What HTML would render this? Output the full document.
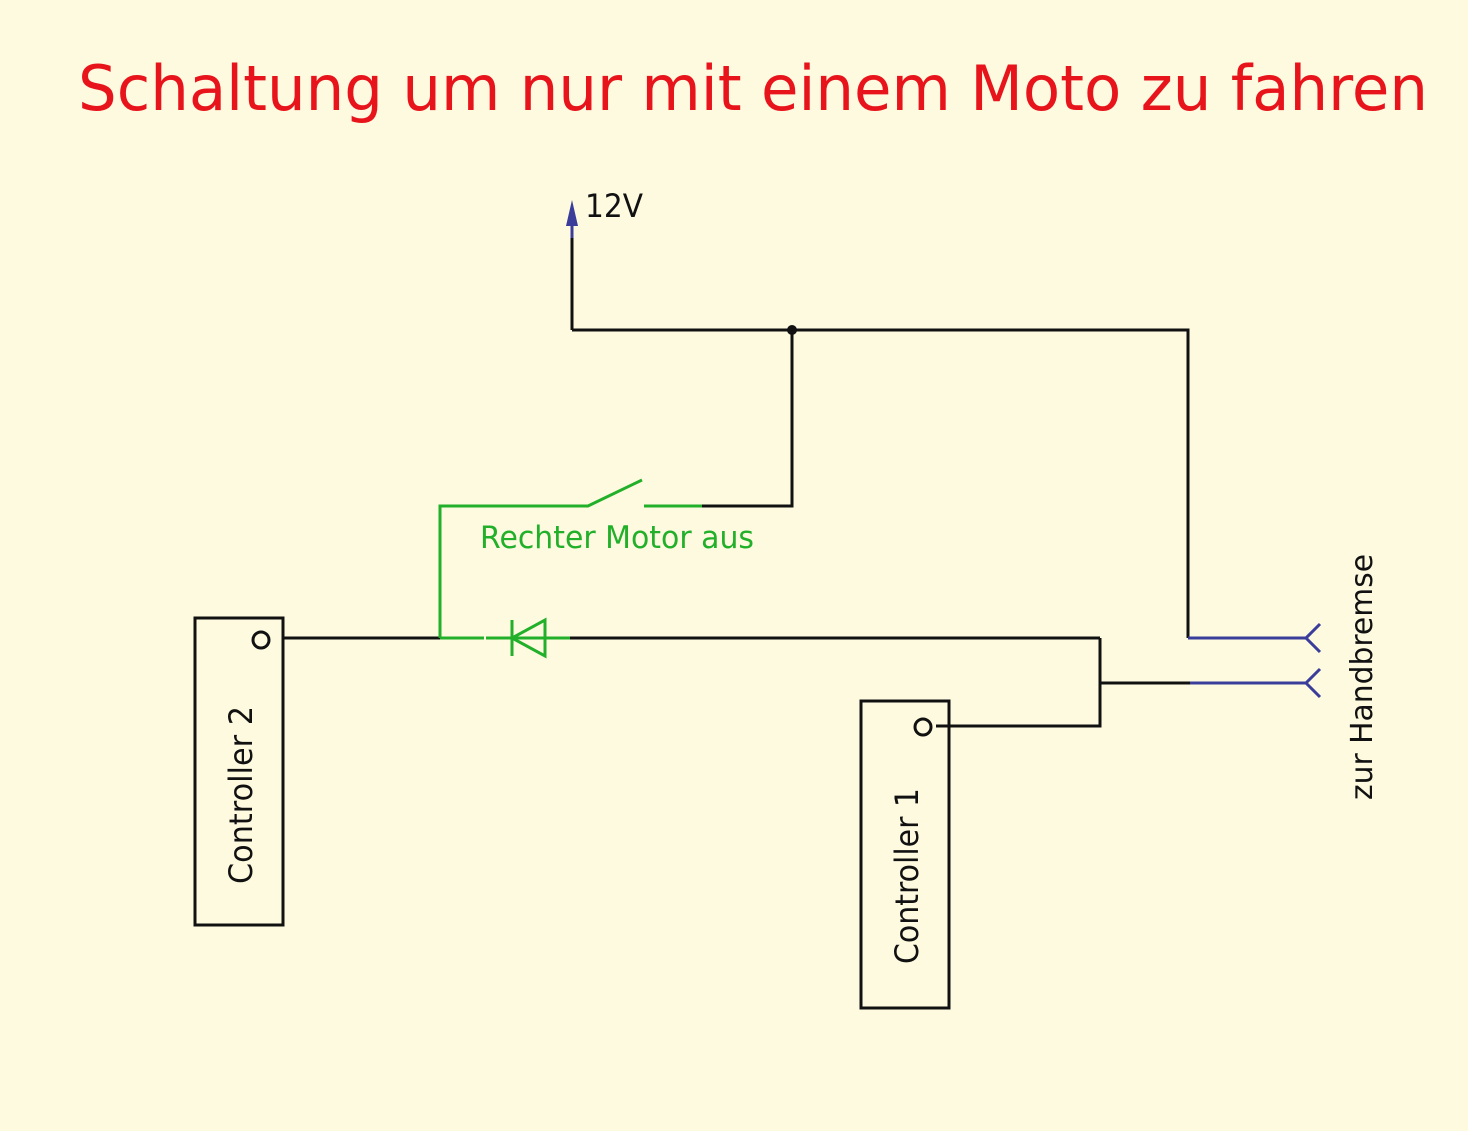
<!DOCTYPE html>
<html><head><meta charset="utf-8"><style>
html,body{margin:0;padding:0;background:#fefadf;}
svg{display:block}
</style></head><body>
<svg width="1468" height="1131" viewBox="0 0 1468 1131" xmlns="http://www.w3.org/2000/svg" font-family="'DejaVu Sans','Liberation Sans',sans-serif">
<rect width="1468" height="1131" fill="#fefadf"/>
<text x="78" y="110" font-size="62" fill="#e8141c" textLength="1350" lengthAdjust="spacingAndGlyphs">Schaltung um nur mit einem Moto zu fahren</text>
<line x1="572" y1="330" x2="572" y2="238" stroke="#111" stroke-width="3"/>
<line x1="572" y1="238" x2="572" y2="212" stroke="#3a3d9a" stroke-width="3"/>
<path d="M566 226 L572 200 L578 226 Z" fill="#3a3d9a"/>
<text x="585" y="217" font-size="32" fill="#111" textLength="58" lengthAdjust="spacingAndGlyphs">12V</text>
<g stroke="#111" stroke-width="3" fill="none">
<polyline points="572,330 1188,330 1188,638"/>
<polyline points="792,330 792,506 702,506"/>
<line x1="284" y1="638" x2="440" y2="638"/>
<line x1="570" y1="638" x2="1100" y2="638"/>
<polyline points="1100,638 1100,726 936,726"/>
<line x1="1100" y1="683" x2="1190" y2="683"/>
<rect x="195" y="618" width="88" height="307"/>
<rect x="861" y="701" width="88" height="307"/>
</g>
<circle cx="792" cy="330" r="5" fill="#111"/>
<circle cx="261" cy="640" r="8" fill="#fefadf" stroke="#111" stroke-width="3"/>
<circle cx="923" cy="727" r="8" fill="#fefadf" stroke="#111" stroke-width="3"/>
<g stroke="#22b02a" stroke-width="3" fill="none">
<polyline points="440,638 440,506 588,506 642,480"/>
<line x1="644" y1="506" x2="702" y2="506"/>
<line x1="440" y1="638" x2="484" y2="638"/>
<line x1="486" y1="638" x2="570" y2="638"/>
<line x1="512" y1="620" x2="512" y2="656"/>
<path d="M512 638 L545 620 L545 656 Z"/>
</g>
<text x="480" y="548" font-size="31" fill="#22b02a" textLength="274" lengthAdjust="spacingAndGlyphs">Rechter Motor aus</text>
<g stroke="#3a3d9a" stroke-width="3" fill="none">
<line x1="1188" y1="638" x2="1306" y2="638"/>
<line x1="1190" y1="683" x2="1306" y2="683"/>
<polyline points="1320,624 1306,638 1320,652"/>
<polyline points="1320,669 1306,683 1320,697"/>
</g>
<text transform="translate(1372,800) rotate(-90)" font-size="30" fill="#111" textLength="246" lengthAdjust="spacingAndGlyphs">zur Handbremse</text>
<text transform="translate(252,884) rotate(-90)" font-size="32" fill="#111" textLength="178" lengthAdjust="spacingAndGlyphs">Controller 2</text>
<text transform="translate(918,964) rotate(-90)" font-size="32" fill="#111" textLength="176" lengthAdjust="spacingAndGlyphs">Controller 1</text>
</svg>
</body></html>
